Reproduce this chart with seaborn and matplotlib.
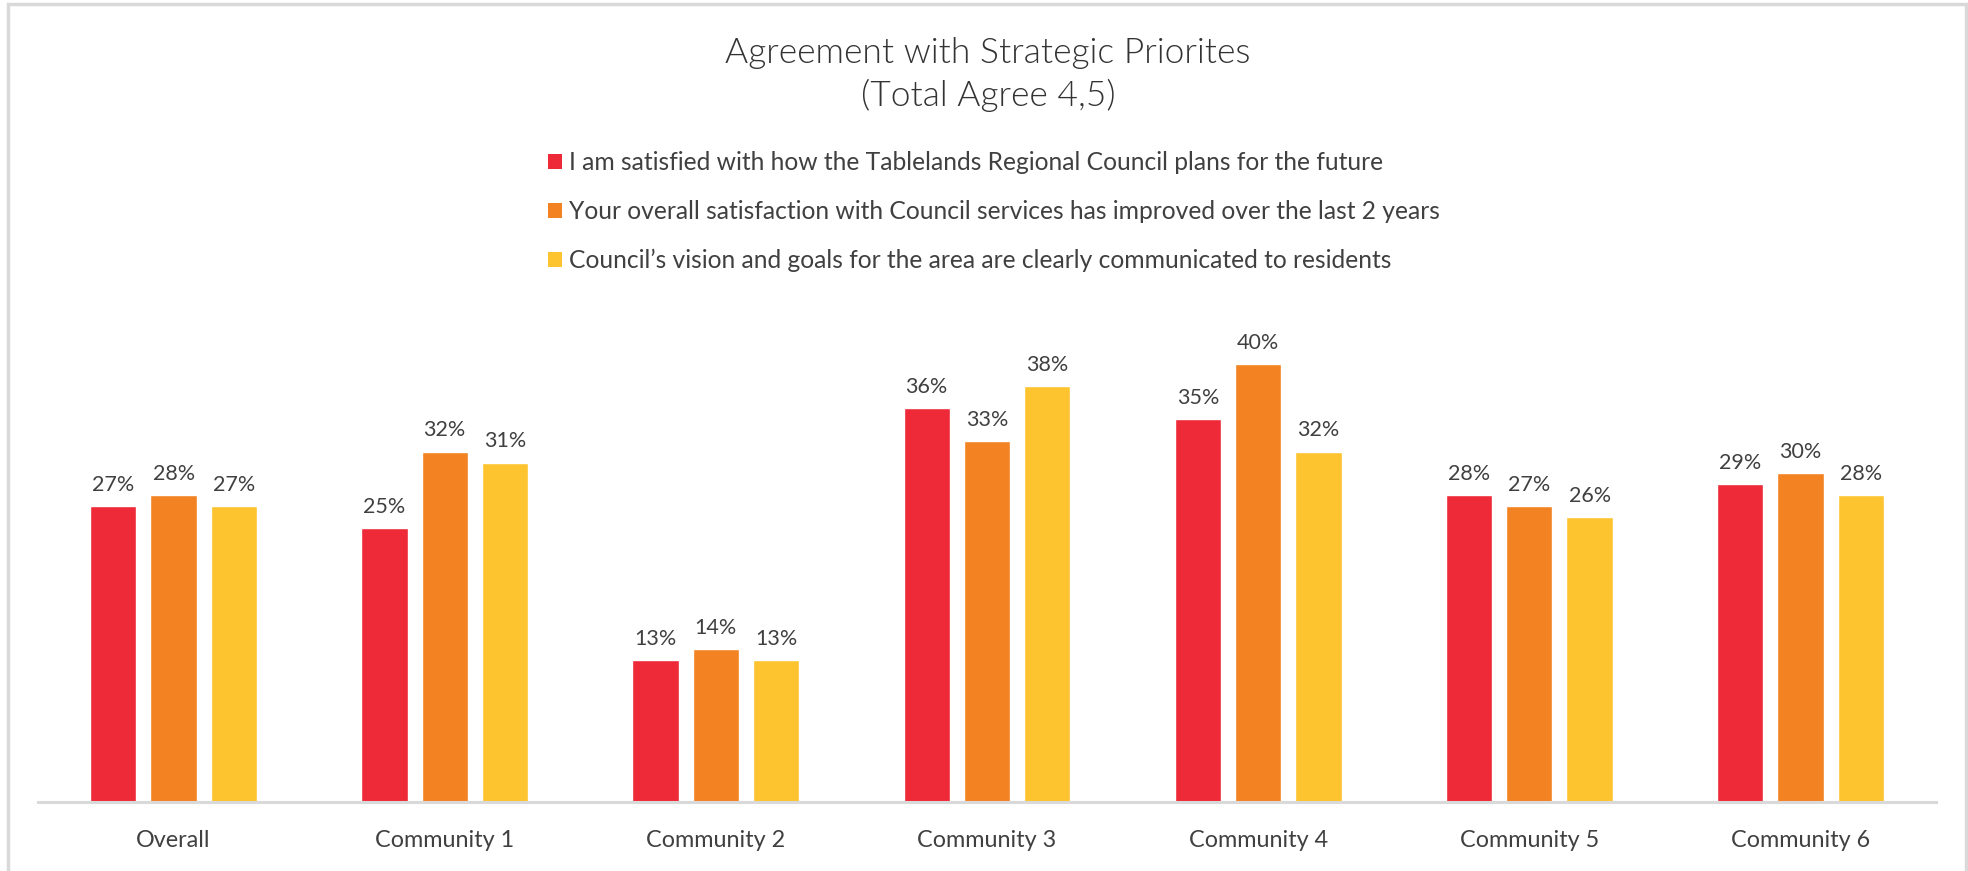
import matplotlib
matplotlib.use("Agg")
import matplotlib.pyplot as plt
import matplotlib.patches as mpatches
import pandas as pd
import seaborn as sns

# Survey results: share of respondents who agree (4 or 5) with each statement
groups = ["Overall", "Community 1", "Community 2", "Community 3",
          "Community 4", "Community 5", "Community 6"]
statements = [
    "I am satisfied with how the Tablelands Regional Council plans for the future",
    "Your overall satisfaction with Council services has improved over the last 2 years",
    "Council\u2019s vision and goals for the area are clearly communicated to residents",
]
plans_future = [27, 25, 13, 36, 35, 28, 29]
services_improved = [28, 32, 14, 33, 40, 27, 30]
vision_communicated = [27, 31, 13, 38, 32, 26, 28]
colors = ["#EE2A38", "#F38222", "#FDC42F"]

df = pd.DataFrame({
    "group": groups * 3,
    "statement": [statements[0]] * 7 + [statements[1]] * 7 + [statements[2]] * 7,
    "value": plans_future + services_improved + vision_communicated,
})

sns.set_theme(style="white")
plt.rcParams["font.family"] = ["Lato", "DejaVu Sans"]

W, H = 1968, 871
fig = plt.figure(figsize=(W / 100, H / 100), dpi=100)
fig.patch.set_facecolor("white")

# axes box in pixel terms: baseline at y=802, x from 38 to 1936
left, right, base = 38, 1936, 802
ymax = 45
px_per_unit = 10.95
ax_h = ymax * px_per_unit
ax = fig.add_axes([left / W, (H - base) / H, (right - left) / W, ax_h / H])

sns.barplot(data=df, x="group", y="value", hue="statement", order=groups,
            hue_order=statements, palette=colors, width=0.667, gap=0.23,
            saturation=1, ax=ax, legend=False)

ax.set_ylim(0, ymax)
ax.set_xlim(-0.5, len(groups) - 0.5)
ax.set_xlabel("")
ax.set_ylabel("")
ax.set_yticks([])
for s in ["top", "right", "left"]:
    ax.spines[s].set_visible(False)
ax.spines["bottom"].set_color("#D9D9D9")
ax.spines["bottom"].set_linewidth(2.2)
ax.tick_params(axis="x", length=0, pad=20, labelsize=16.8, labelcolor="#404040")

for cont in ax.containers:
    ax.bar_label(cont, fmt="{:.0f}%", padding=8, fontsize=15.5, color="#404040")

# title
fig.text(988 / W, 1 - 53 / H, "Agreement with Strategic Priorites",
         ha="center", va="center", fontsize=25.5, fontweight=300, color="#333333")
fig.text(988 / W, 1 - 95 / H, "(Total Agree 4,5)",
         ha="center", va="center", fontsize=25.5, fontweight=300, color="#333333")

# legend stacked above the plot
handles = [mpatches.Patch(facecolor=c, edgecolor="none") for c in colors]
fig.legend(handles, statements, loc="upper left",
           bbox_to_anchor=(548 / W, 1 - 151 / H), frameon=False,
           fontsize=17.7, labelcolor="#404040", handlelength=0.55,
           handleheight=0.55, handletextpad=0.3, labelspacing=1.05,
           borderpad=0, borderaxespad=0)

# light frame around the chart area
frame = mpatches.Rectangle((8 / W, -0.01), (1966 - 8) / W, (H - 4) / H + 0.01,
                           transform=fig.transFigure, fill=False,
                           edgecolor="#D9D9D9", linewidth=2.5)
fig.add_artist(frame)

fig.savefig("out.png", dpi=100, facecolor="white")
